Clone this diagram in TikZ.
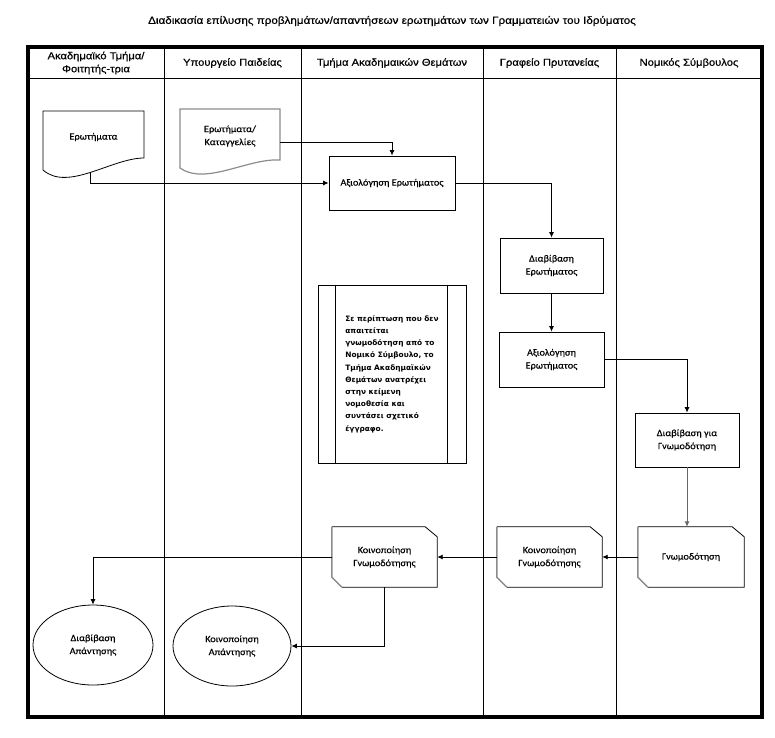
\documentclass[tikz,border=0pt]{standalone}
\usepackage{fontspec}
\setmainfont[FakeStretch=1.08,FakeBold=0.25]{Carlito}
\newfontfamily\hdrfont[FakeStretch=1.12,FakeBold=0.6]{Liberation Sans}
\newfontfamily\notefont{DejaVu Sans}
\usetikzlibrary{arrows.meta,shapes.geometric}
\begin{document}
\begin{tikzpicture}[x=1pt,y=-1pt,
  hdr/.style={font=\hdrfont\fontsize{10}{13}\selectfont, align=center},
  txt/.style={font=\fontsize{9.5}{13}\selectfont, align=center, inner sep=0pt},
  box/.style={txt, draw, line width=0.8pt},
  outline/.style={line width=0.8pt},
  grayline/.style={draw=black!45, line width=1.4pt},
  conn/.style={line width=0.9pt, -{Latex[length=5.5pt,width=5pt]}},
  lane/.style={line width=0.8pt}]
\useasboundingbox (0,0) rectangle (775,737);
\fill[white] (0,0) rectangle (775,737);

% title
\node[hdr, font=\hdrfont\fontsize{10.4}{13}\selectfont] (title) at (392,21) {Διαδικασία επίλυσης προβλημάτων/απαντήσεων ερωτημάτων των Γραμματειών του Ιδρύματος};

% lanes
\foreach \x in {164,301,483,616} \draw[lane] (\x,47) -- (\x,717);
\draw[lane] (28,78) -- (762,78);
\draw[line width=3.5pt] (28,47) rectangle (762,717);

\node[hdr] (h1) at (96,63) {Ακαδημαϊκό Τμήμα/\\Φοιτητής-τρια};
\node[hdr] (h2) at (232.5,63) {Υπουργείο Παιδείας};
\node[hdr] (h3) at (392,63) {Τμήμα Ακαδημαικών Θεμάτων};
\node[hdr] (h4) at (549.5,63) {Γραφείο Πρυτανείας};
\node[hdr] (h5) at (689,63) {Νομικός Σύμβουλος};

% documents
\node[txt] (doc1) at (93.5,137) {Ερωτήματα};
\draw[outline] (43,111) -- (144,111) -- (144,158)
  .. controls (112,158) and (68,192) .. coordinate[pos=0.5] (doc1b) (43,170) -- cycle;
\node[txt] (doc2) at (230,136) {Ερωτήματα/\\Καταγγελίες};
\draw[grayline, line width=1.2pt] (180,109) -- (280,109) -- (280,160)
  .. controls (248,158) and (205,186) .. (180,168) -- cycle;
\coordinate (doc2r) at (280,142);

% process boxes
\node[box, minimum width=126, minimum height=54] (aks1) at (392,183) {Αξιολόγηση Ερωτήματος};
\node[box, minimum width=103, minimum height=55] (diav1) at (551.5,265.5) {Διαβίβαση\\Ερωτήματος};
\node[box, minimum width=105, minimum height=55] (aks2) at (551.5,359.5) {Αξιολόγηση\\Ερωτήματος};
\node[box, minimum width=104, minimum height=54] (diav2) at (687,440) {Διαβίβαση για\\Γνωμοδότηση};

% note
\node[draw, line width=0.8pt, minimum width=148, minimum height=178, align=left,
  font=\notefont\bfseries\fontsize{7.4}{12.2}\selectfont] (note) at (392,374)
  {Σε περίπτωση που δεν\\απαιτείται\\γνωμοδότηση από το\\Νομικό Σύμβουλο, το\\Τμήμα Ακαδημαϊκών\\Θεμάτων ανατρέχει\\στην κείμενη\\νομοθεσία και\\συντάσει σχετικό\\έγγραφο.};
\draw[outline] ([xshift=18pt]note.north west) -- ([xshift=18pt]note.south west);
\draw[outline] ([xshift=-19pt]note.north east) -- ([xshift=-19pt]note.south east);

% chamfered shapes
\node[txt, minimum width=106, minimum height=60] (gnom) at (691,557) {Γνωμοδότηση};
\node[txt, minimum width=105, minimum height=60] (koin1) at (549.5,557) {Κοινοποίηση\\Γνωμοδότησης};
\node[txt, minimum width=105, minimum height=60] (koin2) at (384.5,557) {Κοινοποίηση\\Γνωμοδότησης};
\foreach \n in {gnom,koin1,koin2}{
  \draw[outline] (\n.north west) -- ([xshift=-12pt]\n.north east) -- ([yshift=-10pt]\n.north east)
    -- (\n.south east) -- ([xshift=10pt]\n.south west);
  \draw[grayline] ([xshift=10pt]\n.south west) -- ([yshift=10pt]\n.south west) -- (\n.north west);
}

% ellipses
\node[txt, draw, ellipse, line width=0.8pt, minimum width=120, minimum height=80] (ell1) at (93,645) {Διαβίβαση\\Απάντησης};
\node[txt, draw, ellipse, line width=0.8pt, minimum width=118, minimum height=80] (ell2) at (232,646) {Κοινοποίηση\\Απάντησης};

% connectors
\draw[conn] (doc1b) |- (aks1.west);
\draw[conn] (doc2r) -| (aks1.north);
\draw[conn] (aks1.east) -| (diav1.north);
\draw[conn] (diav1.south) -- (aks2.north);
\draw[conn] (aks2.east) -| (diav2.north);
\draw[conn, draw=black!60] (diav2.south) -- (diav2.south |- gnom.north);
\draw[conn] (gnom.west) -- (koin1.east);
\draw[conn] (koin1.west) -- (koin2.east);
\draw[conn] (koin2.west) -| (ell1.north);
\draw[conn] (koin2.south) |- (ell2.east);
\end{tikzpicture}
\end{document}
